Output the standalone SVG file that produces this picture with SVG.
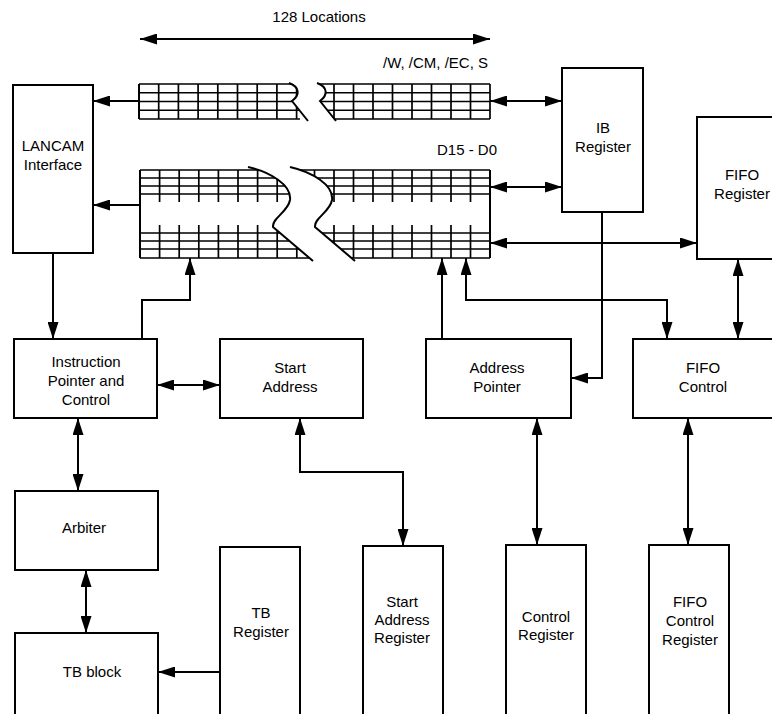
<svg xmlns="http://www.w3.org/2000/svg" width="772" height="714" viewBox="0 0 772 714">
<style>
.box{fill:#fff;stroke:#000;stroke-width:2}
.t{font-family:"Liberation Sans",Arial,sans-serif;font-size:15px;fill:#000;text-anchor:middle}
.ts{font-family:"Liberation Sans",Arial,sans-serif;font-size:15px;fill:#000}
.c{fill:none;stroke:#000;stroke-width:2}
.g{fill:none;stroke:#000;stroke-width:1.7}
.brk{fill:none;stroke:#000;stroke-width:2}
</style>
<defs>
<marker id="ah" markerWidth="17" markerHeight="11" refX="17" refY="5.5" orient="auto-start-reverse" markerUnits="userSpaceOnUse"><path d="M0,0 L17,5.5 L0,11 z" fill="#000"/></marker>
<clipPath id="cA"><path d="M130,76 H289 V83 C300,87 300,95 292,101 L308,121 V126 H130 Z"/></clipPath>
<clipPath id="cB"><path d="M317,76 V83 C328,87 328,95 320,101 L336,121 V126 H500 V76 Z"/></clipPath>
<clipPath id="cC"><path d="M130,160 H248 V167 C270,172 292,185 290,200 C288,212 272,218 273,227 L313,261 V268 H130 Z"/></clipPath>
<clipPath id="cD"><path d="M290,160 V167 C312,172 334,185 332,200 C330,212 314,218 315,227 L355,261 V268 H500 V160 Z"/></clipPath>
</defs>
<rect width="772" height="714" fill="#fff"/>

<g id="locations">
<text class="t" x="319" y="22">128 Locations</text>
</g>

<g id="array-flags">
<text class="ts" x="488" y="68" text-anchor="end">/W, /CM, /EC, S</text>
<g clip-path="url(#cA)">
<path class="g" d="M139,84 H300 M139,92.75 H300 M139,101.5 H300 M139,110.25 H300 M139,119 H300 M139,84 V119 M158.7,84 V119 M178.4,84 V119 M198.1,84 V119 M217.8,84 V119 M237.5,84 V119 M257.2,84 V119 M276.9,84 V119 M296.6,84 V119"/>
<path d="M139,84 V119" stroke="#000" stroke-width="2"/>
</g>
<path class="brk" d="M289,83 C300,87 300,95 292,101 L308,121"/>
<g clip-path="url(#cB)">
<path class="g" d="M310,84 H490 M310,92.75 H490 M310,101.5 H490 M310,110.25 H490 M310,119 H490 M490,84 V119 M470.5,84 V119 M451,84 V119 M431.5,84 V119 M412,84 V119 M392.5,84 V119 M373,84 V119 M353.5,84 V119 M334,84 V119 M314.5,84 V119"/>
</g>
<path class="brk" d="M317,83 C328,87 328,95 320,101 L336,121"/>
</g>

<g id="array-data">
<text class="ts" x="437" y="155">D15 - D0</text>
<g clip-path="url(#cC)">
<path class="g" d="M140,170 H320 M140,178 H320 M140,186 H320 M140,194 H320 M140,233 H320 M140,241 H320 M140,249 H320 M140,258 H320 M159.6,170 V202 M159.6,225 V258 M179.2,170 V202 M179.2,225 V258 M198.8,170 V202 M198.8,225 V258 M218.4,170 V202 M218.4,225 V258 M238,170 V202 M238,225 V258 M257.6,170 V202 M257.6,225 V258 M277.2,170 V202 M277.2,225 V258 M296.8,170 V202 M296.8,225 V258"/>
<path d="M140,170 V258" stroke="#000" stroke-width="2"/>
</g>
<path class="brk" d="M248,167 C270,172 292,185 290,200 C288,212 272,218 273,227 L313,261"/>
<g clip-path="url(#cD)">
<path class="g" d="M285,170 H490 M285,178 H490 M285,186 H490 M285,194 H490 M285,233 H490 M285,241 H490 M285,249 H490 M285,258 H490 M470.5,170 V202 M470.5,225 V258 M451,170 V202 M451,225 V258 M431.5,170 V202 M431.5,225 V258 M412,170 V202 M412,225 V258 M392.5,170 V202 M392.5,225 V258 M373,170 V202 M373,225 V258 M353.5,170 V202 M353.5,225 V258 M334,170 V202 M334,225 V258 M314.5,170 V202 M314.5,225 V258"/>
<path d="M490,170 V258" stroke="#000" stroke-width="2"/>
</g>
<path class="brk" d="M290,167 C312,172 334,185 332,200 C330,212 314,218 315,227 L355,261"/>
</g>

<g id="connectors">
<path class="c" d="M140,39 H490" marker-start="url(#ah)" marker-end="url(#ah)"/>
<path class="c" d="M139,101 H93" marker-end="url(#ah)"/>
<path class="c" d="M490,101 H562" marker-start="url(#ah)" marker-end="url(#ah)"/>
<path class="c" d="M140,205 H93" marker-end="url(#ah)"/>
<path class="c" d="M490,187 H562" marker-start="url(#ah)" marker-end="url(#ah)"/>
<path class="c" d="M490,243 H697" marker-start="url(#ah)" marker-end="url(#ah)"/>
<path class="c" d="M53,253 V339" marker-end="url(#ah)"/>
<path class="c" d="M142,339 V300 H190 V258" marker-end="url(#ah)"/>
<path class="c" d="M157,385 H220" marker-start="url(#ah)" marker-end="url(#ah)"/>
<path class="c" d="M442,339 V258" marker-end="url(#ah)"/>
<path class="c" d="M466,258 V300 H667 V339" marker-start="url(#ah)" marker-end="url(#ah)"/>
<path class="c" d="M602,212 V378 H571" marker-end="url(#ah)"/>
<path class="c" d="M738,259 V339" marker-start="url(#ah)" marker-end="url(#ah)"/>
<path class="c" d="M78,418 V491" marker-start="url(#ah)" marker-end="url(#ah)"/>
<path class="c" d="M86,570 V633" marker-start="url(#ah)" marker-end="url(#ah)"/>
<path class="c" d="M220,672 H158" marker-end="url(#ah)"/>
<path class="c" d="M300,418 V472 H403 V546" marker-start="url(#ah)" marker-end="url(#ah)"/>
<path class="c" d="M537,418 V545" marker-start="url(#ah)" marker-end="url(#ah)"/>
<path class="c" d="M688,418 V545" marker-start="url(#ah)" marker-end="url(#ah)"/>
</g>

<g id="lancam">
<rect class="box" x="13" y="85" width="80" height="168"/>
<text class="t" x="53" y="151">LANCAM</text>
<text class="t" x="53" y="170">Interface</text>
</g>
<g id="ib-register">
<rect class="box" x="562" y="68" width="81" height="144"/>
<text class="t" x="603" y="133">IB</text>
<text class="t" x="603" y="152">Register</text>
</g>
<g id="fifo-register">
<rect class="box" x="697" y="117" width="90" height="142"/>
<text class="t" x="742" y="180">FIFO</text>
<text class="t" x="742" y="199">Register</text>
</g>
<g id="instruction-pointer">
<rect class="box" x="14" y="339" width="143" height="79"/>
<text class="t" x="86" y="367">Instruction</text>
<text class="t" x="86" y="386">Pointer and</text>
<text class="t" x="86" y="405">Control</text>
</g>
<g id="start-address">
<rect class="box" x="220" y="339" width="143" height="79"/>
<text class="t" x="290" y="373">Start</text>
<text class="t" x="290" y="392">Address</text>
</g>
<g id="address-pointer">
<rect class="box" x="426" y="339" width="145" height="79"/>
<text class="t" x="497" y="373">Address</text>
<text class="t" x="497" y="392">Pointer</text>
</g>
<g id="fifo-control">
<rect class="box" x="633" y="339" width="150" height="79"/>
<text class="t" x="703" y="373">FIFO</text>
<text class="t" x="703" y="392">Control</text>
</g>
<g id="arbiter">
<rect class="box" x="15" y="491" width="143" height="79"/>
<text class="t" x="84" y="533">Arbiter</text>
</g>
<g id="tb-block">
<rect class="box" x="15" y="633" width="143" height="90"/>
<text class="t" x="92" y="677">TB block</text>
</g>
<g id="tb-register">
<rect class="box" x="220" y="547" width="80" height="176"/>
<text class="t" x="261" y="618">TB</text>
<text class="t" x="261" y="637">Register</text>
</g>
<g id="start-address-register">
<rect class="box" x="363" y="546" width="80" height="177"/>
<text class="t" x="402" y="607">Start</text>
<text class="t" x="402" y="625">Address</text>
<text class="t" x="402" y="643">Register</text>
</g>
<g id="control-register">
<rect class="box" x="506" y="545" width="80" height="178"/>
<text class="t" x="546" y="622">Control</text>
<text class="t" x="546" y="640">Register</text>
</g>
<g id="fifo-control-register">
<rect class="box" x="649" y="545" width="80" height="178"/>
<text class="t" x="690" y="607">FIFO</text>
<text class="t" x="690" y="626">Control</text>
<text class="t" x="690" y="645">Register</text>
</g>
</svg>
